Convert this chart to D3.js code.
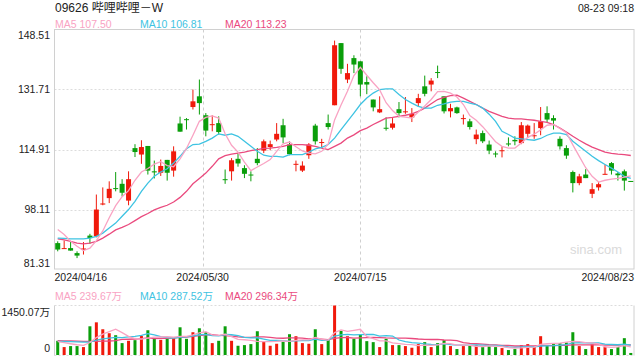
<!DOCTYPE html>
<html>
<head>
<meta charset="utf-8">
<script src="https://cdn.jsdelivr.net/npm/d3@7/dist/d3.min.js"></script>
<style>
    body { margin: 0; background: #fff; }
    svg { display: block; font-family: "Liberation Sans", Arial, "Noto Sans CJK SC", sans-serif; }
</style>
</head>
<body>
<svg id="chart" width="640" height="360"></svg>
<script>
// daily K-line, 90 sessions
const open  = [88.7,87.2,87.3,85.9,86.8,90.8,90.6,99.5,101.3,104.1,105.3,100.6,115.3,113.5,115.9,108.8,108.4,112.0,109.0,122.2,
               123.4,126.8,129.8,124.5,121.9,122.3,106.6,108.8,112.3,109.7,107.9,112.3,114.6,115.6,117.7,121.7,116.3,110.8,109.0,113.3,
               121.6,116.9,122.3,127.3,144.7,134.5,140.5,139.6,133.8,128.9,125.3,121.0,121.0,126.2,125.5,123.9,127.9,132.6,133.1,136.6,
               129.8,125.6,126.7,123.6,122.8,117.8,119.5,116.3,113.8,114.6,116.6,117.6,116.7,119.3,118.8,120.9,125.1,123.7,117.9,115.3,
               108.6,105.5,107.9,102.5,104.3,108.0,111.1,108.2,108.8,106.1];
const high  = [89.2,89.4,89.2,86.4,89.0,91.3,102.3,104.3,106.0,108.6,106.6,108.8,116.4,117.5,115.9,111.8,112.1,112.0,115.8,124.1,
               123.7,131.7,134.5,125.1,124.5,124.2,109.3,112.5,113.9,110.5,108.8,115.3,117.7,117.4,122.3,123.5,117.2,111.8,111.6,116.7,
               122.1,117.9,124.7,145.4,144.7,138.9,141.3,139.6,135.4,128.9,129.8,123.9,123.7,128.2,129.6,126.5,130.5,135.6,134.9,138.4,
               129.8,127.7,126.9,124.7,123.5,120.5,120.2,117.4,114.4,115.8,118.3,118.6,122.6,121.9,122.3,126.8,127.0,124.5,118.6,116.1,
               109.0,108.1,109.4,105.5,105.8,110.7,111.4,108.6,109.3,106.1];
const low   = [86.4,87.1,86.6,84.5,85.5,88.5,90.3,99.3,99.9,103.2,101.8,99.3,112.8,110.9,107.9,106.8,107.5,106.2,107.3,119.9,
               120.5,126.1,124.7,118.6,120.0,119.1,105.3,106.2,110.1,106.9,106.0,110.5,113.9,114.7,117.2,116.7,113.3,108.8,108.6,112.3,
               116.3,115.3,120.5,127.3,136.1,133.5,136.3,129.8,130.4,125.6,125.1,120.2,120.5,123.9,124.9,122.6,126.9,129.8,131.2,134.9,
               125.0,123.9,124.9,121.9,120.5,116.4,116.7,113.6,112.7,112.7,115.8,116.1,116.4,118.1,117.9,118.9,122.6,120.5,114.9,112.3,
               102.9,104.9,106.9,101.3,103.4,107.9,107.9,106.2,103.4,106.0];
const close = [86.9,87.3,86.6,85.2,87.2,90.1,98.1,99.8,103.9,103.9,102.8,106.6,114.2,115.6,109.0,108.5,110.3,108.4,114.4,119.9,
               123.2,128.4,127.9,120.2,122.0,119.8,106.4,111.9,111.0,108.1,107.8,111.1,117.2,116.4,119.3,118.3,113.6,110.9,110.4,116.3,
               117.2,117.0,121.2,144.1,137.5,136.3,138.7,133.1,133.1,126.7,126.2,120.9,122.2,125.1,125.6,124.9,129.3,130.5,134.2,136.5,
               125.6,126.5,125.1,123.7,121.2,119.1,117.2,114.6,113.6,114.7,116.5,117.2,121.7,121.6,118.9,122.8,123.3,123.0,115.8,113.2,
               105.5,107.4,106.9,103.8,105.2,108.1,109.0,107.7,106.2,106.0];

const ma5  = [92.5,91.1,89.2,87.8,86.6,87.3,89.4,92.1,95.8,99.2,101.7,103.4,106.3,108.6,109.6,110.8,111.5,110.4,110.1,112.3,
              115.2,118.9,122.8,123.9,124.3,123.7,119.3,116.1,114.2,111.4,109.0,110.0,111.0,112.1,114.4,116.5,117.0,115.7,114.5,113.9,
              113.7,114.4,116.4,123.2,127.4,131.2,135.6,137.9,135.7,133.6,131.6,128.0,125.8,124.2,124.0,123.7,125.4,127.1,128.9,131.1,
              131.2,130.7,129.6,127.5,124.4,123.1,121.3,119.2,117.1,115.8,115.3,115.3,116.7,118.3,119.2,120.4,121.7,121.9,120.8,119.6,
              116.2,113.0,109.8,107.4,105.8,106.3,106.6,106.8,107.2,107.50];
const ma10 = [90.1,90.0,89.9,89.9,89.9,90.1,90.6,91.5,92.9,94.3,96.2,98.1,100.4,103.2,105.5,107.4,108.6,109.5,111.1,113.0,
              115.1,116.3,116.4,117.2,118.1,119.3,118.9,119.3,118.6,117.2,115.8,114.4,113.3,113.0,113.0,112.8,113.5,113.5,113.5,114.2,
              115.1,115.5,116.3,118.1,120.5,122.8,125.1,127.5,129.3,130.7,131.7,131.9,131.9,130.3,128.9,127.9,127.0,126.5,126.5,127.3,
              127.7,128.2,128.4,128.4,127.9,127.5,126.5,124.8,122.8,120.0,119.1,118.1,117.9,117.7,117.5,118.0,118.9,119.5,119.5,119.1,
              117.2,115.8,114.4,113.0,111.8,110.7,109.7,108.6,107.4,106.81];
const ma20 = [89.9,89.6,89.2,88.7,88.5,88.7,89.2,90.1,91.2,92.4,93.1,93.9,95.0,96.1,97.0,98.0,98.7,99.3,100.2,101.5,
              103.2,105.3,106.8,108.3,110.2,112.3,113.2,113.6,113.9,114.2,114.6,114.9,115.2,115.3,115.5,115.8,116.3,116.3,116.3,116.1,
              115.8,115.3,114.9,115.8,116.7,118.1,119.0,120.2,120.9,121.9,122.8,123.7,123.9,124.2,124.5,124.9,125.6,126.5,127.7,128.9,
              129.5,130.0,130.1,129.3,128.4,127.5,126.5,125.6,124.9,124.2,123.7,123.5,123.5,123.3,123.1,122.8,122.5,121.9,120.9,119.8,
              118.6,117.5,116.5,115.6,114.9,114.2,113.8,113.6,113.5,113.23];

// volume in 万 shares
const volume = [416,232,261,261,232,841,957,754,638,580,348,416,435,561,725,474,445,484,503,812,
                474,667,783,667,348,416,841,416,271,290,319,696,396,271,329,387,609,551,348,329,
                754,319,435,1450,706,551,474,590,406,377,232,474,290,290,261,213,319,377,232,348,
                435,261,174,261,290,290,232,261,232,203,145,174,290,319,232,551,290,319,348,367,
                667,261,174,309,232,232,174,232,493,60];
const volMa5  = [390,360,330,300,280,365,510,609,684,754,655,547,483,468,497,522,528,538,526,544,
                 544,588,648,681,588,576,611,538,458,447,427,398,394,394,402,416,398,429,445,445,
                 518,460,437,657,733,692,723,754,545,480,416,416,356,333,309,306,275,292,280,298,
                 342,331,290,296,284,255,249,267,261,244,215,203,209,226,232,313,336,342,348,375,
                 398,392,363,356,329,242,224,236,273,239.67];
const volMa10 = [400,395,390,385,380,378,435,470,492,517,510,529,546,576,626,589,538,511,497,521,
                 533,558,593,604,566,560,600,593,570,518,502,505,466,426,425,422,398,412,420,424,
                 467,429,433,551,589,605,592,596,601,607,554,570,555,439,395,361,346,324,307,304,
                 324,303,291,288,291,299,290,279,279,264,235,226,238,244,238,264,270,276,287,304,
                 356,364,353,352,352,320,308,300,315,287.52];
const volMa20 = [420,415,410,405,400,400,400,405,410,420,455,462,468,480,503,483,486,490,494,519,
                 521,543,569,590,596,574,569,552,533,519,517,531,529,515,495,491,499,502,495,471,
                 484,467,449,488,507,513,495,504,510,515,510,499,494,495,492,483,469,460,454,455,
                 439,436,423,363,343,330,318,301,293,284,279,264,264,266,264,281,280,277,283,284,
                 295,295,295,298,295,292,289,288,301,296.34];

const priceTicks = [148.51, 131.71, 114.91, 98.11, 81.31];
const volMax = 1450.07;
const dateLabels = ["2024/04/16", "2024/05/30", "2024/07/15", "2024/08/23"];
const dateAt = [0, 23, 47.5, 90];   // position in sessions

const UP = "#f0190b", DOWN = "#0a9e0a";
const C5 = "#f9a3c3", C10 = "#3ec3e2", C20 = "#ea4a7e";
const GRID = "#dcdcdc", BORDER = "#d0d0d0", TEXT = "#222";

const svg = d3.select("#chart");
const L = 54.5, R = 634, T = 29.5, B = 269.5, VT = 305.5, VB = 355.5;

const x = d3.scaleLinear().domain([0, close.length]).range([L, R]);
const cx = i => x(i + 0.5);
const y = d3.scaleLinear().domain([81.31, 148.51]).range([B, T]);
const yv = d3.scaleLinear().domain([0, volMax]).range([VB - 0.5, VT]);

// header
svg.append("text").attr("x", 55).attr("y", 12).attr("font-size", 12).attr("fill", TEXT)
    .text("09626 哔哩哔哩－W");
svg.append("text").attr("x", 634).attr("y", 12).attr("font-size", 10.5).attr("fill", TEXT)
    .attr("text-anchor", "end").text("08-23 09:18");

const legend = (yy, items) => {
    items.forEach(([lx, c, t]) => {
        svg.append("text").attr("x", lx).attr("y", yy).attr("font-size", 10.5).attr("fill", c).text(t);
    });
};
legend(28, [[55, C5, "MA5 " + ma5[ma5.length - 1].toFixed(2)],
            [140, C10, "MA10 " + ma10[ma10.length - 1].toFixed(2)],
            [225, C20, "MA20 " + ma20[ma20.length - 1].toFixed(2)]]);
legend(300, [[55, C5, "MA5 " + volMa5[volMa5.length - 1].toFixed(2) + "万"],
             [140, C10, "MA10 " + volMa10[volMa10.length - 1].toFixed(2) + "万"],
             [225, C20, "MA20 " + volMa20[volMa20.length - 1].toFixed(2) + "万"]]);

// price grid
const g = svg.append("g");
g.selectAll(".hgrid").data(priceTicks.slice(1, -1)).enter().append("line")
    .attr("x1", L).attr("x2", R).attr("y1", d => Math.round(y(d)) + 0.5).attr("y2", d => Math.round(y(d)) + 0.5)
    .attr("stroke", GRID).attr("stroke-dasharray", "2,2");
g.selectAll(".vgrid").data(dateAt.slice(1, -1)).enter().append("line")
    .attr("x1", d => Math.round(x(d)) + 0.5).attr("x2", d => Math.round(x(d)) + 0.5)
    .attr("y1", T).attr("y2", B).attr("stroke", "#cfcfcf").attr("stroke-dasharray", "3,3");
g.append("rect").attr("x", L).attr("y", T).attr("width", R - L).attr("height", B - T - 0.5)
    .attr("fill", "none").attr("stroke", BORDER);

g.append("text").attr("x", 622).attr("y", 254).attr("text-anchor", "end").attr("font-size", 13)
    .attr("fill", "#dadada").text("sina.com");

// y labels
svg.selectAll(".ylab").data(priceTicks).enter().append("text")
    .attr("x", 50).attr("text-anchor", "end").attr("font-size", 10.5).attr("fill", TEXT)
    .attr("y", (d, i) => y(d) + (i === 0 ? 9 : i === priceTicks.length - 1 ? -3 : 3.8))
    .text(d => d.toFixed(2));

// x labels
svg.selectAll(".xlab").data(dateLabels).enter().append("text")
    .attr("x", (d, i) => x(dateAt[i])).attr("y", 281).attr("font-size", 10.5).attr("fill", TEXT)
    .attr("text-anchor", (d, i) => i === 0 ? "start" : i === dateLabels.length - 1 ? "end" : "middle")
    .text(d => d);

// candles
const idx = d3.range(close.length);
const col = i => close[i] >= open[i] ? UP : DOWN;
const candles = svg.append("g");
candles.selectAll(".wick").data(idx).enter().append("line")
    .attr("x1", i => cx(i)).attr("x2", i => cx(i))
    .attr("y1", i => y(high[i])).attr("y2", i => y(low[i]))
    .attr("stroke", col).attr("stroke-width", 1);
candles.selectAll(".body").data(idx).enter().append("rect")
    .attr("x", i => cx(i) - 2.5).attr("width", 5)
    .attr("y", i => y(Math.max(open[i], close[i])))
    .attr("height", i => Math.max(1, Math.abs(y(open[i]) - y(close[i]))))
    .attr("fill", col);

const line = d3.line().x((d, i) => cx(i)).y(d => y(d)).curve(d3.curveLinear);
[[ma20, C20], [ma10, C10], [ma5, C5]].forEach(([s, c]) => {
    svg.append("path").attr("d", line(s)).attr("fill", "none").attr("stroke", c).attr("stroke-width", 1.3);
});

// volume panel
const vg = svg.append("g");
[VT, VB].forEach(yy => vg.append("line").attr("x1", L).attr("x2", R).attr("y1", yy).attr("y2", yy)
    .attr("stroke", GRID).attr("stroke-dasharray", "2,2"));
[L, R].forEach(xx => vg.append("line").attr("x1", xx).attr("x2", xx).attr("y1", VT).attr("y2", VB)
    .attr("stroke", BORDER));
vg.selectAll(".vv").data(dateAt.slice(1, -1)).enter().append("line")
    .attr("x1", d => Math.round(x(d)) + 0.5).attr("x2", d => Math.round(x(d)) + 0.5)
    .attr("y1", VT).attr("y2", VB).attr("stroke", "#cfcfcf").attr("stroke-dasharray", "3,3");

vg.selectAll(".vbar").data(idx).enter().append("rect")
    .attr("x", i => cx(i) - 1.5).attr("width", 3)
    .attr("y", i => yv(volume[i])).attr("height", i => yv(0) - yv(volume[i]))
    .attr("fill", col);

const vline = d3.line().x((d, i) => cx(i)).y(d => yv(d));
[[volMa20, C20], [volMa10, C10], [volMa5, C5]].forEach(([s, c]) => {
    vg.append("path").attr("d", vline(s)).attr("fill", "none").attr("stroke", c).attr("stroke-width", 1.3);
});

svg.append("text").attr("x", 50).attr("y", 316).attr("text-anchor", "end").attr("font-size", 10.5)
    .attr("fill", TEXT).text(volMax.toFixed(2) + "万");
svg.append("text").attr("x", 50).attr("y", 352).attr("text-anchor", "end").attr("font-size", 10.5)
    .attr("fill", TEXT).text("0");
</script>
</body>
</html>
